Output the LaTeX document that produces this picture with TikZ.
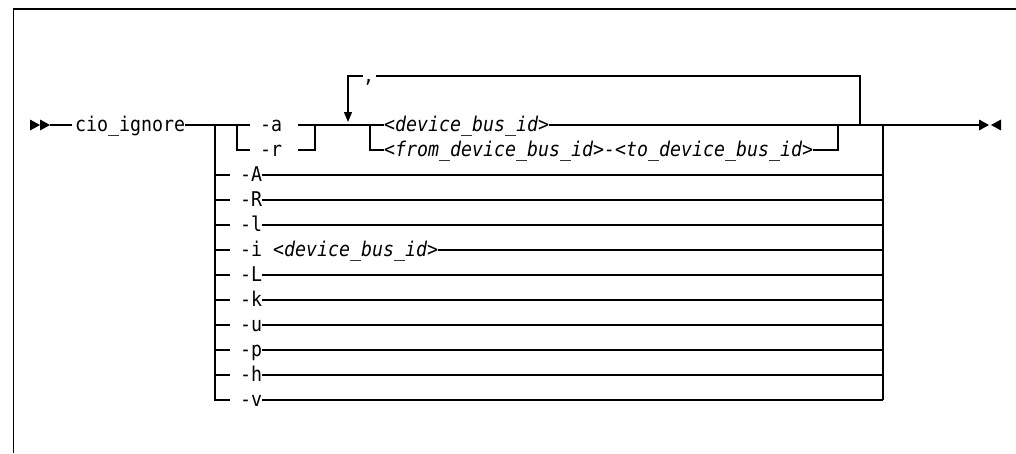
\documentclass[tikz,border=0pt]{standalone}
\usepackage{fontspec}
\setmonofont{DejaVu Sans Mono}[FakeStretch=0.9, ItalicFont={DejaVu Sans Mono Oblique}]
\usetikzlibrary{arrows.meta,positioning,calc}

\begin{document}
\begin{tikzpicture}[x=1pt, y=-1pt,
    rail/.style={line width=1.1pt},
    kw/.style={font=\ttfamily\fontsize{20.3}{22}\selectfont, inner sep=0pt, text height=14pt, text depth=2pt, anchor=west},
    var/.style={kw, font=\ttfamily\itshape\fontsize{20.3}{22}\selectfont},
    loopback/.style={rail, -{Triangle[length=10pt, width=8pt]}, shorten >=3pt}
]
\useasboundingbox (0,0) rectangle (1016,453);
\draw[line width=1.4pt] (13.5,453) -- (13.5,9) -- (1016,9);

\coordinate (begin) at (30,125);
\coordinate (lbus) at (215,125);
\coordinate (arsplit) at (237,125);
\coordinate (arjoin) at (315,125);
\coordinate (loopL) at (348,76);
\coordinate (idsplit) at (370,125);
\coordinate (idjoin) at (838,125);
\coordinate (loopR) at (860,76);
\coordinate (rbus) at (883,125);
\coordinate (finish) at (979,125);

\node[kw] (cmd) at (75,125) {cio\_ignore};
\node[kw] (opta) at (260,125) {-a};
\node[kw] (optr) at (260,150) {-r};
\node[kw] (comma) at (363,76) {,};
\node[var] (devid) at (384,125) {<device\_bus\_id>};
\node[var] (range) at (384,150) {<from\_device\_bus\_id>-<to\_device\_bus\_id>};

\fill (begin) ++(0,-5.5) -- ++(10,5.5) -- ++(-10,5.5) -- cycle;
\fill (begin) ++(10,-5.5) -- ++(10,5.5) -- ++(-10,5.5) -- cycle;
\draw[rail, shorten >=3pt] ($(begin)+(20,0)$) -- (cmd.west);
\draw[rail, shorten >=10pt] (cmd.east) -- (opta.west);
\draw[rail] (lbus) -- (lbus |- optr.west);
\draw[rail, shorten >=10pt] (arsplit) |- (optr.west);
\draw[rail, shorten <=16pt] (opta.east) -- (devid.west);
\draw[rail, shorten <=16pt] (optr.east) -| (arjoin);
\draw[rail] (idsplit) |- (range.west);
\draw[rail] (devid.east) -- (rbus);
\draw[rail] (range.east) -| (idjoin);
\draw[rail, shorten <=2pt] (comma.east) -- (loopR) -- (loopR |- rbus);
\draw[loopback] (comma.west) -- (loopL) -- (loopL |- rbus);

\foreach \name/\txt [count=\i from 2] in {A/-A, R/-R, l/-l, i/{-i \textit{<device\_bus\_id>}}, L/-L, k/-k, u/-u, p/-p, h/-h, v/-v}{
    \node[kw] (opt\name) at (240,{125+25*\i}) {\txt};
    \draw[rail] (opt\name.east) -- (rbus |- opt\name.east);
}
\foreach \name in {A,R,l,i,L,k,u,p,h}
    \draw[rail, shorten >=10pt] (lbus |- opt\name.west) -- (opt\name.west);
\draw[rail] (lbus) -- (lbus |- optv.west) -- ($(optv.west)+(-10,0)$);
\draw[rail] (rbus) -- (rbus |- optv.east);

\draw[rail] (rbus) -- (finish);
\draw[line width=2.2pt] ($(rbus)+(5,0)$) -- ++(22,0);
\fill (finish) ++(0,-5.5) -- ++(10,5.5) -- ++(-10,5.5) -- cycle;
\fill (finish) ++(22,-5.5) -- ++(-10,5.5) -- ++(10,5.5) -- cycle;
\end{tikzpicture}
\end{document}
